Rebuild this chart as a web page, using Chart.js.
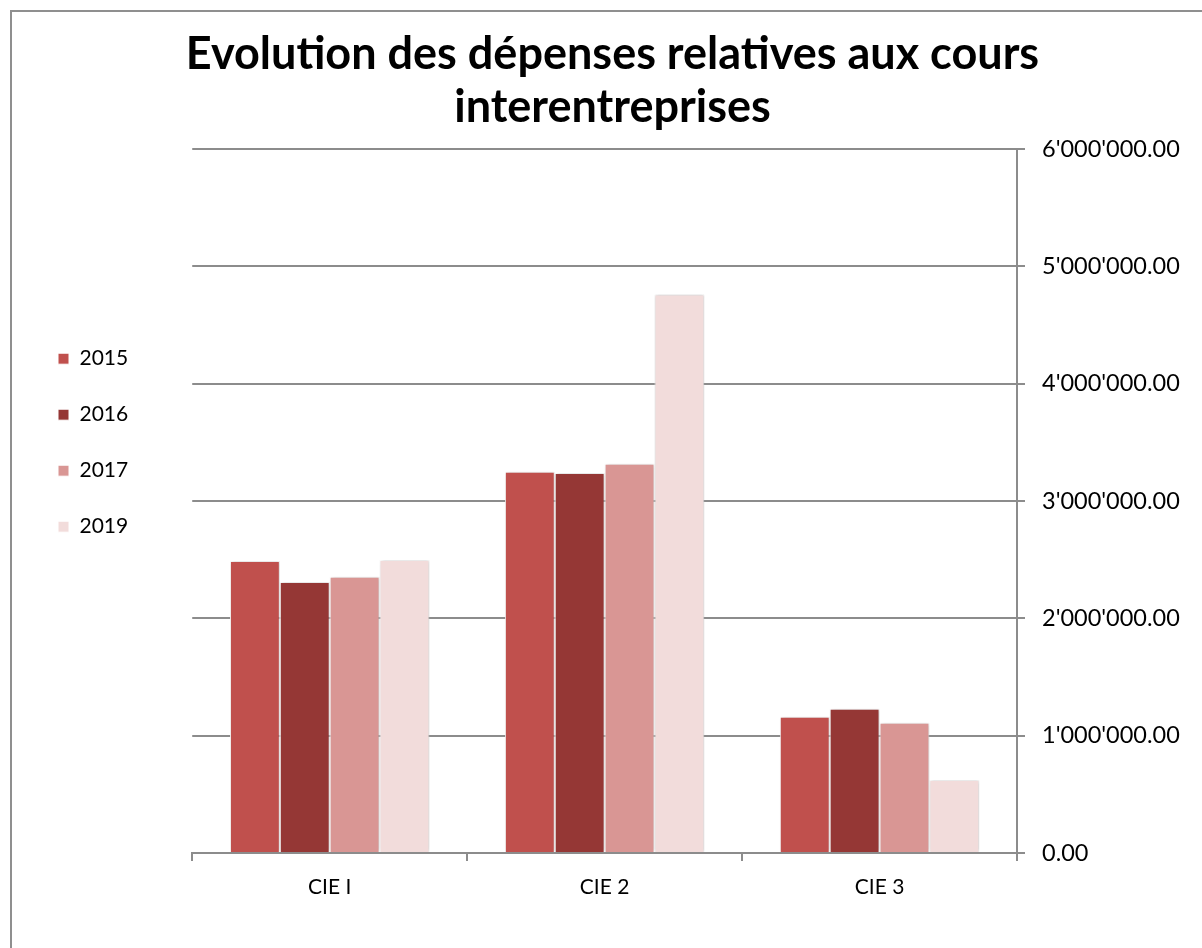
<!DOCTYPE html>
<html>
<head>
<meta charset="utf-8">
<script src="https://cdn.jsdelivr.net/npm/chart.js@4.4.1/dist/chart.umd.min.js"></script>
<style>
  html, body { margin: 0; padding: 0; background: #fff; }
  #wrap { position: relative; width: 1202px; height: 948px; }
  #frame {
    position: absolute; left: 10px; top: 10px; right: 0; bottom: 0;
    border-left: 2px solid #8f8f8f; border-top: 2px solid #8f8f8f;
    pointer-events: none;
  }
</style>
</head>
<body>
<div id="wrap">
  <canvas id="canvas" width="1202" height="948"></canvas>
  <div id="frame"></div>
</div>
<script>
// chart data
const categories = ['CIE I', 'CIE 2', 'CIE 3'];
const years = ['2015', '2016', '2017', '2019'];
const values2015 = [2490000, 3250000, 1162000];
const values2016 = [2310000, 3239000, 1230000];
const values2017 = [2355000, 3318000, 1111000];
const values2019 = [2497000, 4762000, 622000];
const yTicks = [0, 1000000, 2000000, 3000000, 4000000, 5000000, 6000000];

const colors = ['#C0504D', '#953735', '#D99694', '#F2DCDB'];
const gridGray = '#8c8c8c';

// 6'000'000.00
function formatSwiss(v) {
  const parts = v.toFixed(2).split('.');
  return parts[0].replace(/\B(?=(\d{3})+(?!\d))/g, "'") + '.' + parts[1];
}

const series = [values2015, values2016, values2017, values2019];

// soft shadow behind the bars
const barShadow = {
  id: 'barShadow',
  beforeDatasetsDraw(chart) {
    const ctx = chart.ctx;
    ctx.save();
    ctx.shadowColor = 'rgba(0,0,0,0.22)';
    ctx.shadowBlur = 4;
    ctx.shadowOffsetX = 1;
    ctx.shadowOffsetY = 0;
  },
  afterDatasetsDraw(chart) {
    chart.ctx.restore();
  }
};

var canvas = document.getElementById('canvas');
var myChart = new Chart(canvas, {
  type: 'bar',
  data: {
    labels: categories,
    datasets: years.map(function(year, i) {
      return {
        label: year,
        data: series[i],
        backgroundColor: colors[i],
        borderColor: '#ffffff',
        borderWidth: 1,
        categoryPercentage: 0.7255,
        barPercentage: 1
      };
    })
  },
  plugins: [barShadow],
  options: {
    responsive: false,
    animation: false,
    devicePixelRatio: 1,
    layout: { padding: { left: 23, top: 0, right: 0, bottom: 0 } },
    plugins: {
      tooltip: { enabled: false },
      title: {
        display: true,
        text: ['Evolution des dépenses relatives aux cours', 'interentreprises'],
        color: '#000',
        font: { family: 'Lato', size: 45, weight: 'bold', lineHeight: 1.18 },
        padding: { top: 28, bottom: 15 }
      },
      legend: {
        position: 'left',
        align: 'start',
        fullSize: false,
        title: {
          display: true,
          text: ' ',
          font: { size: 10, lineHeight: 1 },
          padding: { top: 154, bottom: 0 }
        },
        labels: {
          color: '#000',
          font: { family: 'Lato', size: 21 },
          boxWidth: 11,
          boxHeight: 11,
          padding: 35
        }
      }
    },
    scales: {
      x: {
        position: 'bottom',
        grid: {
          display: true,
          offset: true,
          drawOnChartArea: false,
          drawTicks: true,
          tickLength: 8,
          color: gridGray,
          lineWidth: 2
        },
        border: { display: true, color: gridGray, width: 2 },
        ticks: {
          color: '#000',
          font: { family: 'Lato', size: 21 },
          padding: 14
        },
        afterFit: function(scale) { scale.height = 95; }
      },
      y: {
        position: 'right',
        min: 0,
        max: 6000000,
        afterBuildTicks: function(scale) {
          scale.ticks = yTicks.map(function(v) { return { value: v }; });
        },
        grid: {
          color: gridGray,
          lineWidth: 2,
          drawTicks: true,
          tickLength: 8
        },
        border: { display: true, color: gridGray, width: 2 },
        ticks: {
          color: '#000',
          font: { family: 'Lato', size: 23.5 },
          padding: 17,
          callback: function(v) { return formatSwiss(v); }
        },
        afterFit: function(scale) { scale.width = 185; }
      },
      pad: {
        type: 'linear',
        position: 'left',
        display: true,
        grid: { display: false },
        border: { display: false },
        ticks: { display: false },
        afterFit: function(scale) { scale.width = 54; }
      }
    }
  }
});
</script>
</body>
</html>
